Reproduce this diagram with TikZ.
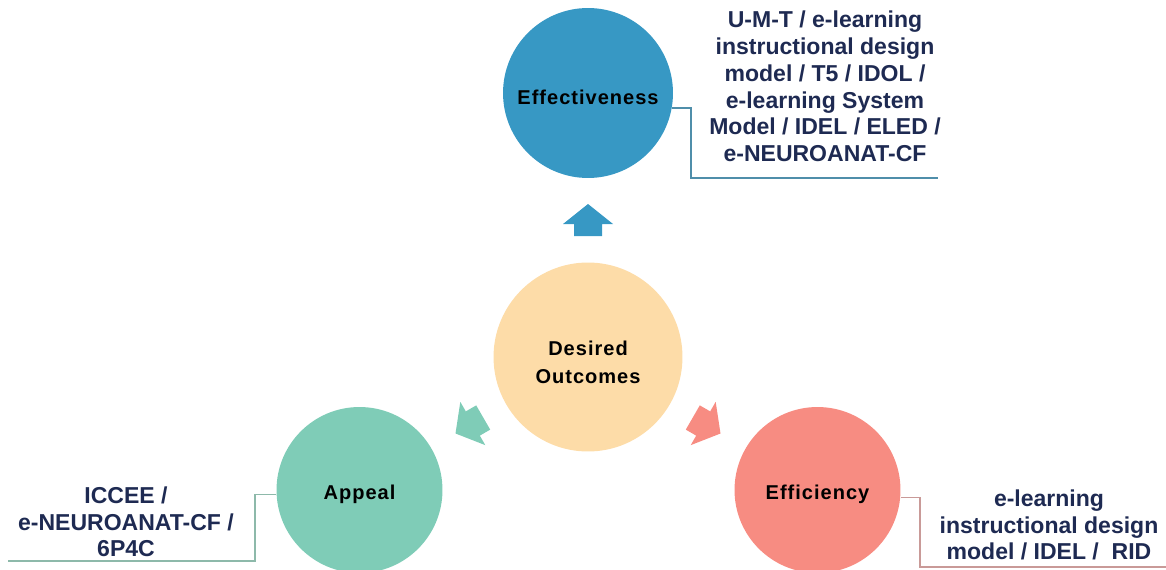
\documentclass[tikz,border=0pt]{standalone}
\usepackage{fontspec}
\setmainfont{Liberation Sans}
\newfontfamily\circfont[LetterSpace=5]{Liberation Sans}
\usetikzlibrary{calc}

\definecolor{effblue}{HTML}{3798C4}
\definecolor{outpeach}{HTML}{FDDCA8}
\definecolor{appteal}{HTML}{7FCCB7}
\definecolor{efsalmon}{HTML}{F78C82}
\definecolor{labnavy}{HTML}{1E2A52}
\definecolor{efline}{HTML}{4F8EAA}
\definecolor{apline}{HTML}{8DB9AA}
\definecolor{esline}{HTML}{C99A98}

\tikzset{
  bubble/.style={circle, inner sep=0pt},
  bubbletext/.style={inner sep=0pt, text=black, align=center,
    font=\circfont\bfseries\fontsize{11.4pt}{15.9pt}\selectfont},
  modellabel/.style={align=center, text=labnavy, inner sep=0pt,
    font=\bfseries\fontsize{13.1pt}{15.2pt}\selectfont},
  leader/.style={line width=0.85pt}
}

\begin{document}
\begin{tikzpicture}[x=0.02cm, y=0.02cm]
  \useasboundingbox (0,0) rectangle (1166,569);

  % outcome circles
  \node[bubble, fill=outpeach, minimum size=3.78cm] (des) at (588,212) {};
  \node[bubble, fill=effblue, minimum size=3.4cm] (eff) at (588,476) {};
  \node[bubble, fill=appteal, minimum size=3.32cm] (app) at (359.5,79) {};
  \node[bubble, fill=efsalmon, minimum size=3.32cm] (effi) at (817.5,79) {};

  % circle captions, set a little below the centres
  \node[bubbletext] (destext) at ($(des.center)+(0,-5)$) {Desired\\Outcomes};
  \node[bubbletext] (efftext) at ($(eff.center)+(0,-4)$) {Effectiveness};
  \node[bubbletext] (apptext) at ($(app.center)+(0,-4)$) {Appeal};
  \node[bubbletext] (effitext) at ($(effi.center)+(0,-4)$) {Efficiency};

  % block arrows pointing from the centre to each outcome
  \foreach \ang/\col in {90/effblue, 210/appteal, 330/efsalmon}{
    \fill[\col, shift={($(des.center)+(\ang:137)$)}, rotate=\ang]
      (-16,-14) -- (-4,-14) -- (-4,-25) -- (16,0) -- (-4,25) -- (-4,14) -- (-16,14) -- cycle;
  }

  % leader lines to the model lists
  \coordinate (effA) at (691,391);
  \coordinate (effB) at (938,391);
  \draw[leader, efline] (eff.-10) -| (effA) -- (effB);

  \coordinate (appA) at (255,8);
  \coordinate (appB) at (8,8);
  \draw[leader, apline] (app.183) -| (appA) -- (appB);

  \coordinate (efiA) at (920,2);
  \coordinate (efiB) at (1166,2);
  \draw[leader, esline] (effi.-5) -| (efiA) -- (efiB);

  % model lists
  \node[modellabel] (efftxt) at (825,482.5)
    {U-M-T / e-learning\\instructional design\\model / T5 / IDOL /\\e-learning System\\Model / IDEL / ELED /\\e-NEUROANAT-CF};
  \node[modellabel] (apptxt) at (126,47)
    {ICCEE /\\e-NEUROANAT-CF /\\6P4C};
  \node[modellabel] (efitxt) at (1049,44)
    {e-learning\\instructional design\\model / IDEL /\ \ RID};
\end{tikzpicture}
\end{document}
